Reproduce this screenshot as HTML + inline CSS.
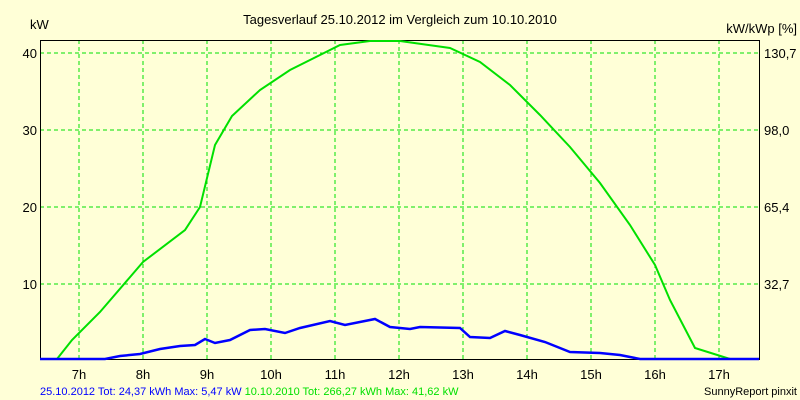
<!DOCTYPE html><html><head><style>body{margin:0}svg{display:block}text{font-family:"Liberation Sans",sans-serif;font-size:13px}</style></head><body>
<svg width="800" height="400" xmlns="http://www.w3.org/2000/svg">
<rect width="800" height="400" fill="#ffffd7"/>
<g stroke="#00e000" stroke-dasharray="4,3" stroke-width="1">
<line x1="40" x2="759" y1="53" y2="53"/><line x1="40" x2="759" y1="130" y2="130"/><line x1="40" x2="759" y1="207" y2="207"/><line x1="40" x2="759" y1="284" y2="284"/>
<line x1="79" x2="79" y1="40" y2="359"/><line x1="143" x2="143" y1="40" y2="359"/><line x1="207" x2="207" y1="40" y2="359"/><line x1="271" x2="271" y1="40" y2="359"/><line x1="335" x2="335" y1="40" y2="359"/><line x1="399" x2="399" y1="40" y2="359"/><line x1="463" x2="463" y1="40" y2="359"/><line x1="527" x2="527" y1="40" y2="359"/><line x1="591" x2="591" y1="40" y2="359"/><line x1="655" x2="655" y1="40" y2="359"/><line x1="719" x2="719" y1="40" y2="359"/>
</g>
<rect x="40.5" y="40.5" width="719" height="319" fill="none" stroke="#000"/>
<polyline fill="none" stroke="#00e000" stroke-width="2" points="40,359 57,359 72,340 100,312 143,262 185,230 200,207 215,145 232,116 260,90 290,70 320,55 340,45 370,41 400,41 450,48 480,62 510,85 540,115 570,147 600,183 630,225 655,265 670,300 695,348 730,359 759,359"/>
<polyline fill="none" stroke="#0000ff" stroke-width="2.5" points="40,359 105,359 120,356 140,354 160,349 180,346 195,345 205,339 215,343 230,340 250,330 265,329 285,333 300,328 330,321 345,325 375,319 390,327 410,329 420,327 460,328 470,337 490,338 505,331 520,335 545,342 570,352 600,353 620,355 640,359 759,359"/>
<text x="400" y="24" text-anchor="middle">Tagesverlauf 25.10.2012 im Vergleich zum 10.10.2010</text>
<text x="30" y="29">kW</text><text x="797" y="33" text-anchor="end">kW/kWp [%]</text>
<g text-anchor="end"><text x="37" y="58">40</text><text x="37" y="135">30</text><text x="37" y="212">20</text><text x="37" y="289">10</text></g>
<text x="764" y="58">130,7</text><text x="764" y="135">98,0</text><text x="764" y="212">65,4</text><text x="764" y="289">32,7</text>
<g text-anchor="middle"><text x="79" y="379">7h</text><text x="143" y="379">8h</text><text x="207" y="379">9h</text><text x="271" y="379">10h</text><text x="335" y="379">11h</text><text x="399" y="379">12h</text><text x="463" y="379">13h</text><text x="527" y="379">14h</text><text x="591" y="379">15h</text><text x="655" y="379">16h</text><text x="719" y="379">17h</text></g>
<text x="40" y="395" fill="#0000ff" style="font-size:11px">25.10.2012 Tot: 24,37 kWh Max: 5,47 kW <tspan fill="#00e000">10.10.2010 Tot: 266,27 kWh Max: 41,62 kW</tspan></text>
<text x="797" y="395" text-anchor="end" style="font-size:11px">SunnyReport pinxit</text>
</svg></body></html>
